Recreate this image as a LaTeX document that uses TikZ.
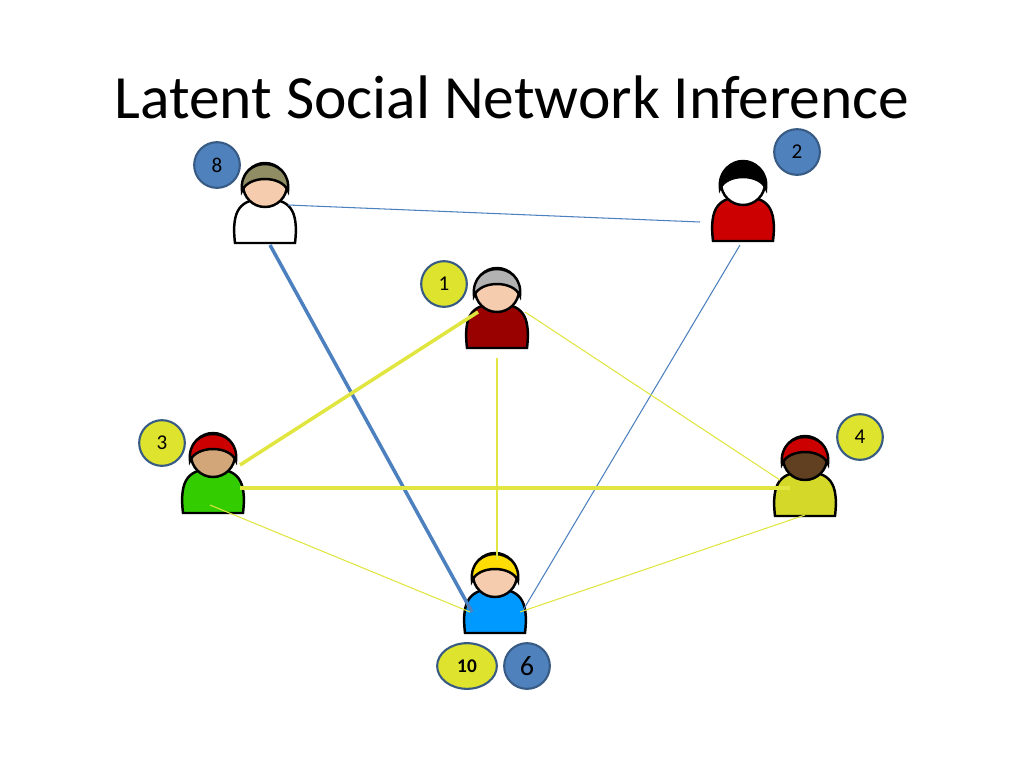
\documentclass[tikz,border=0pt]{standalone}
\usepackage{fontspec}
\setmainfont{Carlito}
\usetikzlibrary{positioning,shapes.geometric}
\definecolor{badgeblue}{rgb}{0.31,0.51,0.74}
\definecolor{badgeyellow}{rgb}{0.87,0.89,0.18}
\definecolor{edgeblue}{rgb}{0.30,0.50,0.75}
\definecolor{edgeyellow}{rgb}{0.88,0.90,0.25}
\definecolor{skin}{rgb}{0.96,0.80,0.68}
\tikzset{
  badge/.style={circle, draw=badgeblue!70!black, line width=1.2pt, minimum size=26pt, inner sep=0pt, font=\fontsize{12}{13}\selectfont},
  bluebadge/.style={badge, fill=badgeblue},
  yellowbadge/.style={badge, fill=badgeyellow},
  blueedge/.style={edgeblue, line width=0.6pt},
  yellowedge/.style={edgeyellow, line width=0.6pt},
}
% person icon: x, y, hair, skin, shirt
\newcommand\person[5]{%
  \draw[line width=1.4pt, fill=#5] (#1-30,#2+58) .. controls (#1-34,#2+24) and (#1-24,#2+14) .. (#1,#2+14)
     .. controls (#1+24,#2+14) and (#1+34,#2+24) .. (#1+30,#2+58) -- cycle;
  \draw[line width=1.4pt, fill=#4] (#1,#2) circle (22);
  \draw[line width=1.4pt, fill=#3] (#1-23,#2+6) .. controls (#1-27,#2-30) and (#1+27,#2-30) .. (#1+23,#2+6)
     .. controls (#1+17,#2-10) and (#1-17,#2-10) .. cycle;
}
\begin{document}
\begin{tikzpicture}[x=0.02cm, y=-0.02cm]
\useasboundingbox (0,0) rectangle (1024,768);
\node (title) at (512,97) {\fontsize{35}{40}\selectfont Latent Social Network Inference};
% people
\person{265}{185}{gray!70!olive}{skin}{white}
\person{743}{183}{black}{white}{red!80!black}
\person{497}{290}{gray!60}{skin}{red!60!black}
\person{213}{455}{red!80!black}{brown!70}{green!60!olive}
\person{805}{458}{red!80!black}{brown!50!black}{badgeyellow!90!olive}
\person{495}{575}{yellow!80!orange}{skin}{blue!40!cyan}
% edge ends
\coordinate (e8r) at (288,205); \coordinate (e8b) at (270,245);
\coordinate (e2l) at (700,222); \coordinate (e2b) at (740,245);
\coordinate (e1l) at (478,312); \coordinate (e1r) at (525,312); \coordinate (e1b) at (497,358);
\coordinate (e3r) at (240,465); \coordinate (e3m) at (240,488); \coordinate (e3b) at (210,505);
\coordinate (e4l) at (780,480); \coordinate (e4m) at (790,488); \coordinate (e4b) at (805,515);
\coordinate (e6l) at (470,612); \coordinate (e6t) at (497,560); \coordinate (e6r) at (520,612);
\coordinate (e6bl) at (472,612); \coordinate (e6br) at (522,612);
% connectors
\draw[blueedge] (e8r) -- (e2l);
\draw[blueedge, line width=2pt] (e8b) -- (e6bl);
\draw[blueedge] (e2b) -- (e6br);
\draw[yellowedge, line width=2pt] (e1l) -- (e3r);
\draw[yellowedge] (e1r) -- (e4l);
\draw[yellowedge] (e1b) -- (e6t);
\draw[yellowedge, line width=2.5pt] (e3m) -- (e4m);
\draw[yellowedge] (e3b) -- (e6l);
\draw[yellowedge] (e6r) -- (e4b);
% badges
\node[bluebadge] (b8) at (217,165) {8};
\node[bluebadge] (b2) at (797,152) {2};
\node[yellowbadge] (b1) at (444,284) {1};
\node[yellowbadge] (b3) at (162,443) {3};
\node[yellowbadge] (b4) at (860,437) {4};
\node[yellowbadge, ellipse, minimum width=34pt, font=\bfseries\fontsize{11}{12}\selectfont] (b10) at (467,666) {10};
\node[bluebadge, font=\fontsize{16}{17}\selectfont] (b6) at (527,666) {6};
\end{tikzpicture}
\end{document}
